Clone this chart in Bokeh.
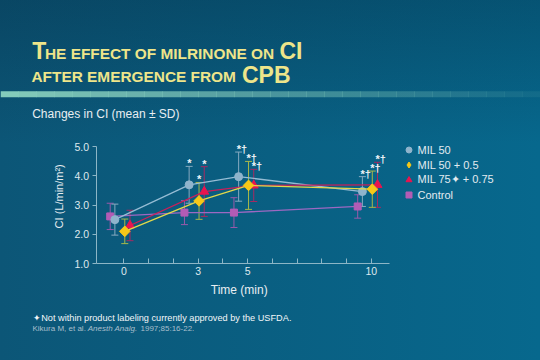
import numpy as np
from bokeh.plotting import figure
from bokeh.models import (ColumnDataSource, Range1d, FixedTicker, PrintfTickFormatter,
                          Whisker, TeeHead, Label, Legend, LegendItem, BoxAnnotation)
from bokeh.core.properties import value
from bokeh.embed import file_html
from bokeh.resources import INLINE

# ---------------- data ----------------
times = [0, 3, 5, 10]
x_tick_labels = ["0", "3", "5", "10"]
y_ticks = [1.0, 2.0, 3.0, 4.0, 5.0]

series_names = ["MIL 50", "MIL 50 + 0.5", "MIL 75\u2726 + 0.75", "Control"]

mil50_mean = [2.50, 3.69, 3.97, 3.46]
mil50_sd = [0.53, 0.63, 0.84, 0.51]
mil50_sig = ["", "*", "*\u2020", "*\u2020"]

mil50_05_mean = [2.10, 3.14, 3.67, 3.54]
mil50_05_sd = [0.42, 0.63, 0.82, 0.62]
mil50_05_sig = ["", "*", "*\u2020", "*\u2020"]

mil75_mean = [2.30, 3.46, 3.67, 3.69]
mil75_sd = [0.52, 0.85, 0.55, 0.77]
mil75_sig = ["", "*", "*\u2020", "*\u2020"]

control_mean = [2.61, 2.74, 2.74, 2.95]
control_sd = [0.45, 0.41, 0.51, 0.40]
control_sig = ["", "", "", ""]

# ---------------- layout ----------------
W, H = 540, 360
PX_PER_MIN = 24.75
PX_PER_UNIT = 29.25
X0_PAGE = 123.3     # page x of t=0
Y1_PAGE = 263.0     # page y of CI=1.0

x_start = -X0_PAGE / PX_PER_MIN
x_end = (W - X0_PAGE) / PX_PER_MIN
y_end = 1 + Y1_PAGE / PX_PER_UNIT
y_start = 1 - (H - Y1_PAGE) / PX_PER_UNIT

FONT = "Liberation Sans"

p = figure(width=W, height=H, output_backend="svg", toolbar_location=None,
           x_range=Range1d(x_start, x_end), y_range=Range1d(y_start, y_end),
           min_border=0, background_fill_color=None, border_fill_color=None,
           outline_line_color=None)
p.grid.grid_line_color = None

axis_color = "#8db6c6"
label_color = "#dfe9ee"

xa = p.xaxis[0]
xa.fixed_location = 1.0
xa.bounds = (-1.12, 10.75)
xa.ticker = FixedTicker(ticks=list(range(0, 11)))
overrides = {t: "" for t in range(0, 11)}
for t, lab in zip(times, x_tick_labels):
    overrides[t] = lab
xa.major_label_overrides = overrides
xa.major_tick_in = 5
xa.major_tick_out = 0
xa.minor_tick_line_color = None
xa.major_label_standoff = 3

ya = p.yaxis[0]
ya.fixed_location = -1.12
ya.bounds = (1, 5)
ya.ticker = FixedTicker(ticks=y_ticks)
ya.formatter = PrintfTickFormatter(format="%.1f")
ya.major_tick_in = 0
ya.major_tick_out = 4
ya.minor_tick_line_color = None
ya.major_label_standoff = 3

for ax in (xa, ya):
    ax.axis_line_color = axis_color
    ax.major_tick_line_color = axis_color
    ax.major_label_text_color = label_color
    ax.major_label_text_font = FONT
    ax.major_label_text_font_size = "10.5px"

# ---------------- series ----------------
series = [
    # name, mean, sd, sig, offset, fill, line, whisker, marker, size, angle
    (series_names[3], control_mean, control_sd, control_sig, -0.55, "#b25cb5", "#9d68c2", "#9a5aaa", "square", 7, 0.0),
    (series_names[0], mil50_mean, mil50_sd, mil50_sig, -0.36, "#8fb4cc", "#95bcd4", "#86aac0", "circle", 8, 0.0),
    (series_names[2], mil75_mean, mil75_sd, mil75_sig, 0.25, "#e8154f", "#c8205a", "#a62a62", "triangle", 9, 0.0),
    (series_names[1], mil50_05_mean, mil50_05_sd, mil50_05_sig, 0.04, "#f6c818", "#e2d84a", "#a8b84a", "square", 7.5, np.pi / 4),
]

legend_r = {}
for name, mean, sd, sig, off, fill, lcol, wcol, marker, size, ang in series:
    x = [t + off for t in times]
    upper = [m + s for m, s in zip(mean, sd)]
    lower = [m - s for m, s in zip(mean, sd)]
    src = ColumnDataSource(dict(x=x, mean=mean, upper=upper, lower=lower, sig=sig))
    w = Whisker(source=src, base="x", upper="upper", lower="lower",
                line_color=wcol, line_width=1, level="underlay",
                upper_head=TeeHead(size=7, line_color=wcol, line_width=1),
                lower_head=TeeHead(size=7, line_color=wcol, line_width=1))
    p.add_layout(w)
    p.line("x", "mean", source=src, line_color=lcol, line_width=1.3)
    if ang != 0.0:
        # diamond key for the legend, hidden underneath the rotated-square markers
        legend_r[name] = p.scatter("x", "mean", source=src, marker="diamond", size=size + 2,
                                   fill_color=fill, line_color=fill)
    r = p.scatter("x", "mean", source=src, marker=marker, size=size, angle=ang,
                  fill_color=fill, line_color=fill)
    if ang == 0.0:
        legend_r[name] = r
    p.text("x", "upper", text="sig", source=src, text_font=value(FONT),
           text_font_size="11px", text_font_style="bold", text_color="#eef4f8",
           text_align="left", text_baseline="middle", x_offset=-2, y_offset=-3)

legend = Legend(items=[LegendItem(label=n, renderers=[legend_r[n]]) for n in series_names],
                location=(400.5, 158), orientation="vertical", padding=0, margin=0, spacing=0,
                glyph_width=15, glyph_height=15, label_height=15, label_standoff=2,
                label_text_font=FONT, label_text_font_size="11px", label_text_color="#e2ebf0",
                background_fill_alpha=0, border_line_alpha=0)
p.add_layout(legend)

# ---------------- texts ----------------
def lab(text, px, py, size, color, style="normal", align="left", angle=0.0, base=True):
    # py is the visual text baseline (base=True) or the text centre (base=False)
    cy = py - 0.3 * size if base else py
    p.add_layout(Label(x=px, y=H - cy, x_units="screen", y_units="screen",
                       text=text, text_font=FONT, text_font_size=f"{size}px", text_color=color,
                       text_font_style=style, text_align=align, text_baseline="middle",
                       angle=angle))

title_color = "#eee58a"
lab("T", 31.7, 57.3, 23, title_color, "bold")
lab("HE EFFECT OF MILRINONE ON", 44.5, 57.3, 15.4, title_color, "bold")
lab("CI", 279.0, 57.3, 23, title_color, "bold")
lab("AFTER EMERGENCE FROM", 31.0, 81.0, 15.4, title_color, "bold")
lab("CPB", 241.5, 81.0, 23, title_color, "bold")

lab("Changes in CI (mean \u00b1 SD)", 31.7, 117.0, 12, "#e8eef2")
lab("CI (L/min/m\u00b2)", 58.0, 195.8, 11, "#e8eef2", align="center", angle=np.pi / 2, base=False)
lab("Time (min)", 238.7, 289.0, 12, "#e8eef2", align="center", base=False)

lab("\u2726Not within product labeling currently approved by the USFDA.", 32.7, 320.5, 9.2, "#f2f6f8")
lab("Kikura M, et al.", 32.0, 330.0, 8, "#a9bfcc")
lab("Anesth Analg.", 87.2, 330.0, 8, "#a9bfcc", "italic")
lab("1997;85:16-22.", 140.0, 330.0, 8, "#a9bfcc")

# separator band fading to the right
n_seg = 30
seg_w = W / n_seg
for i in range(n_seg):
    a = 1.0 - 0.9 * i / (n_seg - 1)
    p.add_layout(BoxAnnotation(left=i * seg_w, right=(i + 1) * seg_w + 0.5,
                               bottom=H - 96.7, top=H - 90.7,
                               left_units="screen", right_units="screen",
                               bottom_units="screen", top_units="screen",
                               fill_color="#84cbbb", fill_alpha=a, line_color=None,
                               level="underlay"))

html = file_html(p, INLINE, title="Milrinone CI")
css = ("<style>html, body { background-color: #0a5a7c !important; "
       "background-image: linear-gradient(to bottom, rgba(2,30,50,0.28), rgba(2,30,50,0) 40%), "
       "linear-gradient(to right, #0c5677, #07688d) !important; }</style>")
html = html.replace("</head>", css + "</head>", 1)
open("out.html", "w").write(html)
